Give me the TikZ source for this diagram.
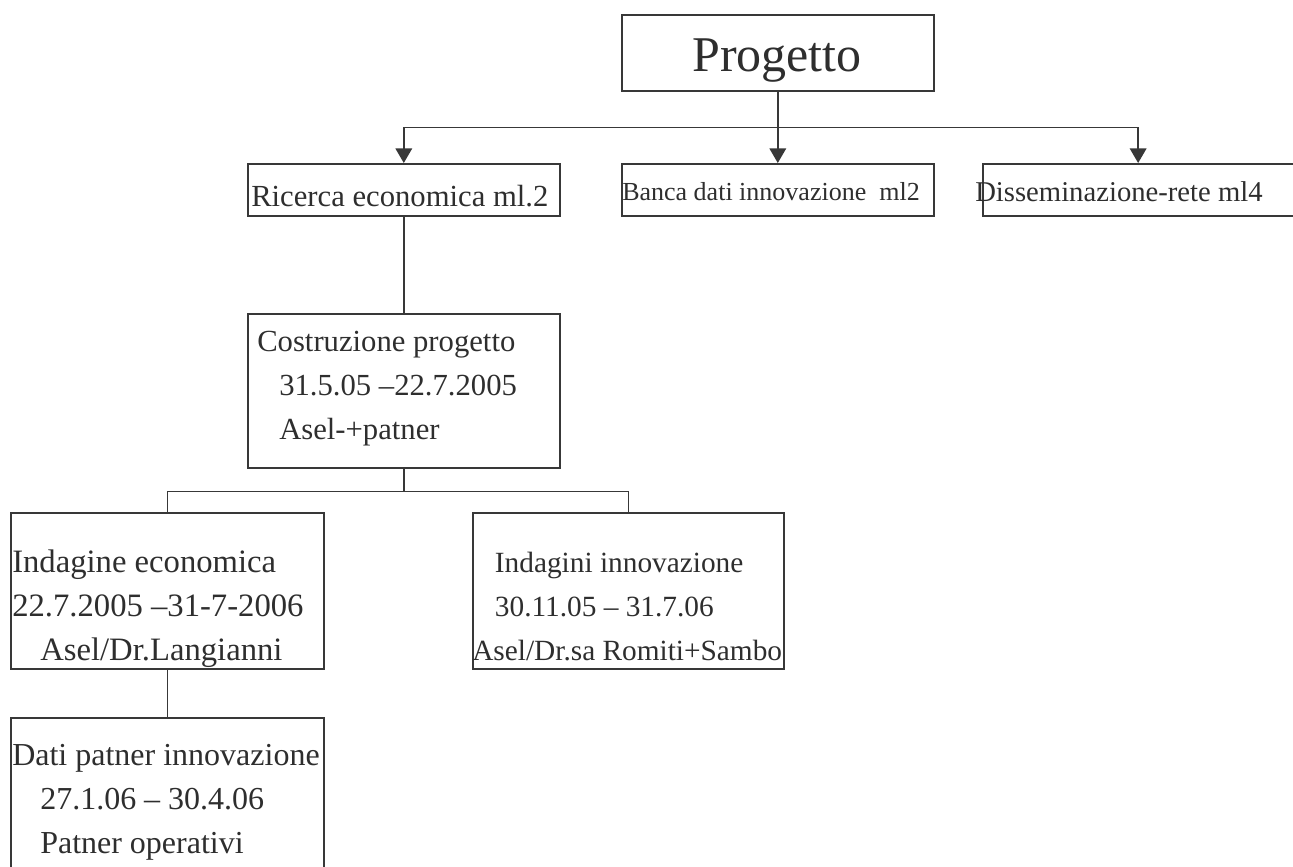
\documentclass[tikz,border=0pt]{standalone}
\usepackage{fontspec}
\setmainfont{Liberation Serif}
\usetikzlibrary{arrows.meta}

\tikzset{
	box/.style={draw=black!78, line width=1.2pt, rectangle, inner sep=0pt, anchor=north west},
	txt/.style={anchor=base west, inner sep=0pt, align=left, text=black!82,
		font=\fontsize{23}{33}\selectfont},
	link/.style={draw=black!78, line width=1.2pt},
	arr/.style={link, -{Triangle[length=11pt,width=12.5pt]}},
}

\begin{document}
\begin{tikzpicture}[x=0.75pt,y=-0.75pt]
	\useasboundingbox (0,0) rectangle (1293,867);
	% boxes
	\node[box, minimum width=234pt, minimum height=57pt] (prog) at (621,14) {};
	\node[box, minimum width=234pt, minimum height=39pt] (ric) at (247,163) {};
	\node[box, minimum width=234pt, minimum height=39pt] (ban) at (621,163) {};
	\node[box, minimum width=233pt, minimum height=39pt] (diss) at (982,163) {};
	\node[box, minimum width=234pt, minimum height=115.5pt] (costr) at (247,313) {};
	\node[box, minimum width=234.75pt, minimum height=117pt] (indec) at (10,512) {};
	\node[box, minimum width=233.25pt, minimum height=117pt] (indinn) at (472,512) {};
	\node[box, minimum width=234.75pt, minimum height=140pt] (dati) at (10,717) {};
	% texts (anchor = baseline of the last line)
	\node[txt, anchor=base, font=\fontsize{37.5}{40}\selectfont] (prog-t) at (777,72) {Progetto};
	\node[txt] (ric-t) at (251,206) {Ricerca economica ml.2};
	\node[txt, font=\fontsize{19.5}{24}\selectfont] (ban-t) at (622,200) {Banca dati innovazione\ \ ml2};
	\node[txt, font=\fontsize{21.5}{24}\selectfont] (diss-t) at (975,201) {Disseminazione-rete ml4};
	\node[txt] (costr-t) at (257,439) {Costruzione progetto\\
		\hspace*{16.5pt}31.5.05 –22.7.2005\\
		\hspace*{16.5pt}Asel-+patner};
	\node[txt, font=\fontsize{24.5}{33}\selectfont] (indec-t) at (12,660) {Indagine economica\\
		22.7.2005 –31-7-2006\\
		\hspace*{21pt}Asel/Dr.Langianni};
	\node[txt, font=\fontsize{22}{33}\selectfont] (indinn-t) at (472,660) {\hspace*{17pt}Indagini innovazione\\
		\hspace*{17pt}30.11.05 – 31.7.06\\
		Asel/Dr.sa Romiti+Sambo};
	\node[txt, font=\fontsize{24}{33}\selectfont] (dati-t) at (12,853) {Dati patner innovazione\\
		\hspace*{21pt}27.1.06 – 30.4.06\\
		\hspace*{21pt}Patner operativi};
	% connectors
	\draw[arr] (prog.south) -- ++(0,36) -| (ric.north);
	\draw[arr] (prog.south) -- (ban.north);
	\draw[arr] (prog.south) -- ++(0,36) -| (diss.north);
	\draw[link] (ric.south) -- (costr.north);
	\draw[link] (costr.south) -- ++(0,23) -| (indec.north);
	\draw[link] (costr.south) -- ++(0,23) -| (indinn.north);
	\draw[link] (indec.south) -- (dati.north);
\end{tikzpicture}
\end{document}
